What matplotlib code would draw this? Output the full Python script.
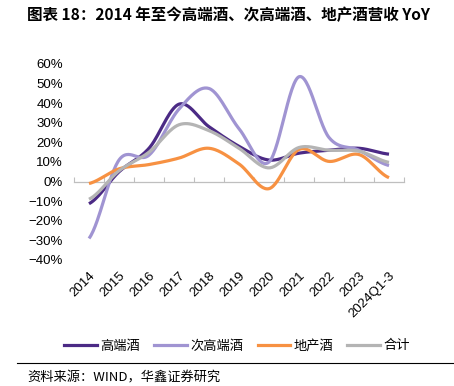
import numpy as np
import matplotlib
matplotlib.use("Agg")
import matplotlib.pyplot as plt
from matplotlib.lines import Line2D

plt.rcParams['font.family'] = ['Noto Sans CJK SC', 'DejaVu Sans']

categories = ["2014", "2015", "2016", "2017", "2018", "2019", "2020", "2021", "2022", "2023", "2024Q1-3"]
high_end = [-11.3, 5.0, 17.0, 39.5, 28.0, 18.0, 11.0, 14.5, 16.0, 17.0, 14.0]
sub_high = [-29.0, 11.0, 13.5, 37.0, 47.5, 27.0, 10.0, 53.5, 22.5, 16.0, 8.2]
local = [-1.0, 6.5, 8.7, 12.0, 17.0, 9.0, -3.6, 16.4, 10.3, 13.8, 2.0]
total = [-9.0, 5.5, 15.0, 29.0, 26.0, 17.0, 7.0, 17.4, 16.0, 15.5, 9.8]
series_names = ["高端酒", "次高端酒", "地产酒", "合计"]
colors = ["#4B2A85", "#A094D2", "#F79142", "#B4B4B4"]
yticks = [-40, -30, -20, -10, 0, 10, 20, 30, 40, 50, 60]


def smooth(xs, ys, n=30):
    xs = np.asarray(xs, float)
    ys = np.asarray(ys, float)
    px = np.concatenate([[2 * xs[0] - xs[1]], xs, [2 * xs[-1] - xs[-2]]])
    py = np.concatenate([[ys[0]], ys, [ys[-1]]])
    outx, outy = [], []
    for i in range(1, len(px) - 2):
        p0, p1, p2, p3 = px[i - 1], px[i], px[i + 1], px[i + 2]
        q0, q1, q2, q3 = py[i - 1], py[i], py[i + 1], py[i + 2]
        if i == 1:
            q0 = q1
        if i == len(px) - 3:
            q3 = q2
        c1x, c1y = p1 + (p2 - p0) / 6, q1 + (q2 - q0) / 6
        c2x, c2y = p2 - (p3 - p1) / 6, q2 - (q3 - q1) / 6
        t = np.linspace(0, 1, n)
        bx = (1 - t) ** 3 * p1 + 3 * (1 - t) ** 2 * t * c1x + 3 * (1 - t) * t ** 2 * c2x + t ** 3 * p2
        by = (1 - t) ** 3 * q1 + 3 * (1 - t) ** 2 * t * c1y + 3 * (1 - t) * t ** 2 * c2y + t ** 3 * q2
        outx.append(bx)
        outy.append(by)
    return np.concatenate(outx), np.concatenate(outy)


fig = plt.figure(figsize=(4.54, 3.86), dpi=100)
ax = fig.add_axes([74 / 454, 1 - 260 / 386, 330 / 454, 196 / 386])

x = np.arange(len(categories))
for vals, name, c in zip([high_end, sub_high, local, total], series_names, colors):
    sx, sy = smooth(x, vals)
    ax.plot(sx, sy, color=c, lw=2.3, label=name, solid_capstyle='butt')

ax.set_xlim(-0.5, len(categories) - 0.5)
ax.set_ylim(-40, 60)
for s in ax.spines.values():
    s.set_visible(False)
ax.set_yticks(yticks)
ax.set_yticklabels([f"{v}%".replace("-", "\u2212") for v in yticks],
                   family=['Liberation Sans', 'DejaVu Sans'], fontsize=9.5)
ax.tick_params(axis='y', length=0, pad=8)
ax.set_xticks(x)
ax.set_xticklabels(categories, rotation=45, ha='right', rotation_mode='anchor',
                   family=['Liberation Sans', 'DejaVu Sans'], fontsize=9.5)
ax.tick_params(axis='x', length=0, pad=7)

sec = ax.secondary_xaxis(0.4)
sec.set_xticks(np.arange(-0.5, len(categories), 1.0))
sec.tick_params(direction='in', length=3.5, color='#BFBFBF', labelbottom=False, width=0.8)
sec.spines['bottom'].set_color('#BFBFBF')
sec.spines['bottom'].set_linewidth(0.9)

fig.text(27 / 454, 1 - 15 / 386, "图表 18：2014 年至今高端酒、次高端酒、地产酒营收 YoY",
         fontsize=11.2, fontweight='bold', va='center', ha='left')

handles = [Line2D([0], [0], color=c, lw=2.3) for c in colors]
fig.legend(handles, series_names, loc='center', bbox_to_anchor=(237 / 454, 1 - 346 / 386),
           ncol=4, frameon=False, fontsize=9.5, handlelength=2.5, handletextpad=0.2,
           columnspacing=1.1)

fig.add_artist(Line2D([17 / 454, 1.0], [1 - 363 / 386, 1 - 363 / 386], color='black', lw=0.8))
fig.text(27 / 454, 1 - 378 / 386, "资料来源：WIND，华鑫证券研究", fontsize=9.5, va='center', ha='left')

fig.savefig("out.png", dpi=100)
